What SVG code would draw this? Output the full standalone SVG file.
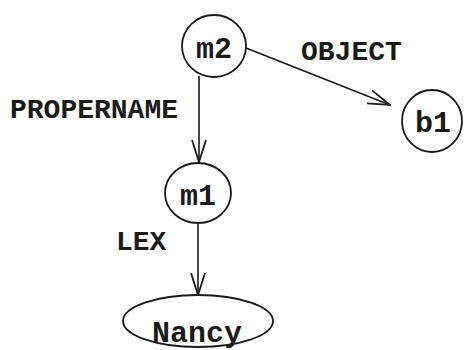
<svg xmlns="http://www.w3.org/2000/svg" width="464" height="350" viewBox="0 0 464 350">
  <defs>
    <!-- open V arrowhead -->
    <marker id="vee" viewBox="0 0 24 16" refX="23" refY="8" markerWidth="24" markerHeight="16" markerUnits="userSpaceOnUse" orient="auto">
      <path d="M1,1 L23,8 L1,15" fill="none" stroke="#1a1a1a" stroke-width="1.8"/>
    </marker>
  </defs>
  <style>
    .node { fill: #fff; stroke: #1a1a1a; stroke-width: 1.8; }
    .edge { fill: none; stroke: #1a1a1a; stroke-width: 1.6; marker-end: url(#vee); }
    .lbl { font-family: "Liberation Mono", "DejaVu Sans Mono", monospace; font-weight: bold; font-size: 28px; fill: #1a1a1a; }
    .nl { text-anchor: middle; font-size: 30px; }
  </style>
  <rect width="464" height="350" fill="#fff"/>

  <g id="edges">
    <line class="edge" x1="199" y1="76" x2="199" y2="162"/>
    <line class="edge" x1="246" y1="48" x2="390" y2="105"/>
    <line class="edge" x1="198" y1="223" x2="198" y2="295"/>
    <text class="lbl" x="10" y="118">PROPERNAME</text>
    <text class="lbl" x="301" y="60">OBJECT</text>
    <text class="lbl" x="116" y="250">LEX</text>
  </g>

  <g id="m2">
    <ellipse class="node" cx="214" cy="46" rx="32" ry="31"/>
    <text class="lbl nl" x="214" y="58">m2</text>
  </g>
  <g id="b1">
    <ellipse class="node" cx="432" cy="121" rx="30" ry="31"/>
    <text class="lbl nl" x="433" y="132">b1</text>
  </g>
  <g id="m1">
    <ellipse class="node" cx="198" cy="193" rx="33" ry="30"/>
    <text class="lbl nl" x="198" y="205">m1</text>
  </g>
  <g id="Nancy">
    <ellipse class="node" cx="198" cy="321" rx="75" ry="26"/>
    <text class="lbl nl" x="197" y="342" font-size="28">Nancy</text>
  </g>
</svg>
